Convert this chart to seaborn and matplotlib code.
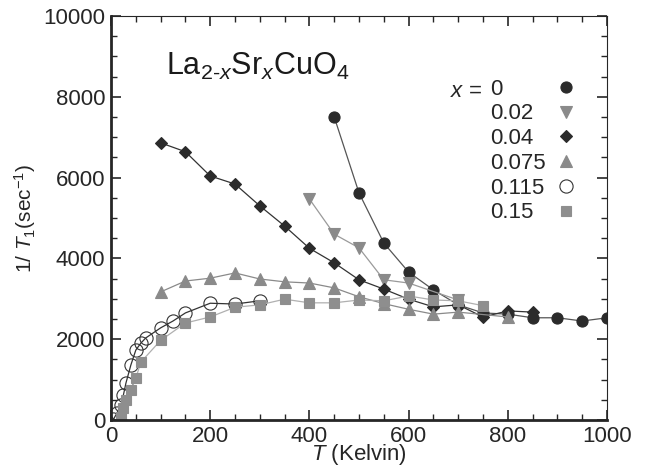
import numpy as np
import pandas as pd
import matplotlib
matplotlib.use("Agg")
import matplotlib.pyplot as plt
import seaborn as sns
from matplotlib.lines import Line2D
from matplotlib.ticker import MultipleLocator

# NMR 1/T1 vs temperature for La2-xSrxCuO4
t_x000 = [450, 500, 550, 600, 650, 700, 750, 800, 850, 900, 950, 1000]
r_x000 = [7500, 5620, 4380, 3660, 3220, 2850, 2650, 2620, 2530, 2530, 2450, 2530]

t_x002 = [400, 450, 500, 550, 600, 700]
r_x002 = [5470, 4600, 4260, 3470, 3390, 2970]

t_x004 = [100, 150, 200, 250, 300, 350, 400, 450, 500, 550, 600, 650, 700, 750, 800, 850]
r_x004 = [6860, 6640, 6040, 5840, 5300, 4800, 4250, 3890, 3470, 3240, 2990, 2800, 2850, 2550, 2700, 2670]

t_x0075 = [100, 150, 200, 250, 300, 350, 400, 450, 500, 550, 600, 650, 700, 800]
r_x0075 = [3170, 3440, 3510, 3640, 3490, 3420, 3390, 3270, 3050, 2880, 2740, 2620, 2670, 2550]

t_x0115 = [5, 12, 20, 25, 30, 40, 50, 60, 70, 100, 125, 150, 200, 250, 300]
r_x0115 = [20, 170, 380, 620, 910, 1360, 1730, 1900, 2030, 2280, 2450, 2650, 2890, 2870, 2950]

t_x015 = [20, 25, 30, 40, 50, 60, 100, 150, 200, 250, 300, 350, 400, 450, 500, 550, 600, 650, 700, 750]
r_x015 = [80, 300, 500, 740, 1030, 1430, 1970, 2400, 2550, 2790, 2850, 2990, 2900, 2900, 2970, 2950, 3070, 2970, 2950, 2830]

labels = ["0", "0.02", "0.04", "0.075", "0.115", "0.15"]

series = [
    (t_x000, r_x000, "o", "#2b2b2b", "#2b2b2b", "#555555", 8),
    (t_x002, r_x002, "v", "#8a8a8a", "#8a8a8a", "#9a9a9a", 8),
    (t_x004, r_x004, "D", "#2b2b2b", "#2b2b2b", "#333333", 6.5),
    (t_x0075, r_x0075, "^", "#8a8a8a", "#8a8a8a", "#8a8a8a", 8),
    (t_x0115, r_x0115, "o", "none", "#333333", "#333333", 9.5),
    (t_x015, r_x015, "s", "#8e8e8e", "#8e8e8e", "#b0b0b0", 7.5),
]

sns.set_style("ticks")
plt.rcParams['font.family'] = ['Liberation Sans', 'DejaVu Sans']
plt.rcParams['mathtext.fontset'] = 'custom'
plt.rcParams['mathtext.rm'] = 'Liberation Sans'
plt.rcParams['mathtext.it'] = 'Liberation Sans:italic'

fig = plt.figure(figsize=(6.53, 4.70), dpi=100)
ax = fig.add_axes([0.170, 0.1064, 0.7596, 0.8596])

handles = []
for t, r, mk, fc, ec, lc, ms in series:
    df = pd.DataFrame({"T": t, "rate": r})
    sns.lineplot(data=df, x="T", y="rate", ax=ax, color=lc, linewidth=0.9,
                 marker=mk, markersize=ms, markerfacecolor=fc,
                 markeredgecolor=ec, markeredgewidth=0.8, sort=False, legend=False)
    handles.append(Line2D([], [], linestyle="none", marker=mk, markersize=ms,
                          markerfacecolor=fc, markeredgecolor=ec, markeredgewidth=0.8))

ax.set_xlim(0, 1000)
ax.set_ylim(0, 10000)
ax.xaxis.set_major_locator(MultipleLocator(200))
ax.xaxis.set_minor_locator(MultipleLocator(50))
ax.yaxis.set_major_locator(MultipleLocator(2000))
ax.yaxis.set_minor_locator(MultipleLocator(500))
ax.tick_params(which="both", direction="in", top=True, right=True, labelsize=16, pad=4)
ax.tick_params(which="major", length=7, width=1.2)
ax.tick_params(which="minor", length=4, width=1.0)
for s in ["left", "bottom"]:
    ax.spines[s].set_linewidth(2)
for s in ["top", "right"]:
    ax.spines[s].set_linewidth(0.8)

ax.set_xlabel(r"$\mathit{T}$ (Kelvin)", fontsize=16, labelpad=-3)
ax.set_ylabel(r"1/ $\mathit{T}_1$(sec$^{-1}$)", fontsize=15, labelpad=4)

ax.text(0.11, 0.875, r"La$_{2\text{-}\mathit{x}}$Sr$_\mathit{x}$CuO$_4$", transform=ax.transAxes,
        fontsize=22, color="#1a1a1a", va="center")

ax.text(0.748, 0.812, r"$\mathit{x}$ =", transform=ax.transAxes, fontsize=16,
        va="center", ha="right")

# labels column (left aligned), markers column (right aligned)
blank = [Line2D([], [], linestyle="none", marker="none") for _ in labels]
leg_txt = ax.legend(blank, labels, loc="upper left", bbox_to_anchor=(0.765, 0.845),
                    frameon=False, fontsize=16, handlelength=0, handletextpad=0,
                    labelspacing=0.17, borderaxespad=0, borderpad=0)
ax.add_artist(leg_txt)
ax.legend(handles, [" "] * len(labels), loc="upper right", bbox_to_anchor=(0.94, 0.845),
          frameon=False, markerfirst=False, fontsize=16, handlelength=1.0,
          handletextpad=0.0, labelspacing=0.17, borderaxespad=0, borderpad=0)

fig.savefig("out.png", dpi=100)
